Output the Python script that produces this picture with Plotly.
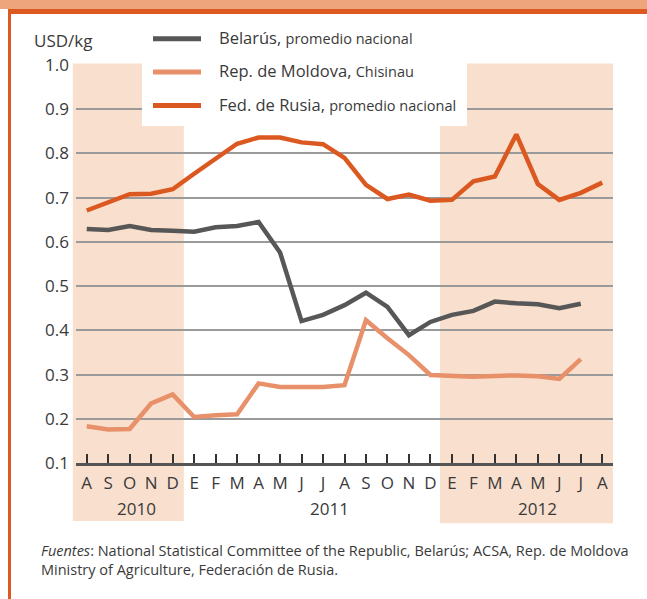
import plotly.graph_objects as go

# ---------------- data ----------------
months = ["A", "S", "O", "N", "D", "E", "F", "M", "A", "M", "J", "J",
          "A", "S", "O", "N", "D", "E", "F", "M", "A", "M", "J", "J", "A"]
years = ["2010", "2011", "2012"]
year_pos = [2.3, 11.3, 21.0]

belarus = [0.629, 0.627, 0.636, 0.627, 0.625, 0.623, 0.633, 0.636, 0.645, 0.576,
           0.421, 0.435, 0.457, 0.485, 0.453, 0.389, 0.419, 0.435, 0.444, 0.465,
           0.461, 0.459, 0.450, 0.460, None]
moldova = [0.183, 0.176, 0.177, 0.235, 0.255, 0.204, 0.208, 0.210, 0.280, 0.272,
           0.272, 0.272, 0.276, 0.423, 0.382, 0.344, 0.299, 0.298, 0.295, 0.297,
           0.298, 0.296, 0.290, 0.335, None]
russia = [0.671, 0.690, 0.708, 0.709, 0.719, 0.754, 0.788, 0.822, 0.836, 0.836,
          0.825, 0.821, 0.790, 0.729, 0.697, 0.707, 0.693, 0.695, 0.737, 0.748,
          0.843, 0.731, 0.695, 0.711, 0.734]

series_names = ["Belarús,", "Rep. de Moldova,", "Fed. de Rusia,"]
series_subs = ["promedio nacional", "Chisinau", "promedio nacional"]
yticks = [0.1, 0.2, 0.3, 0.4, 0.5, 0.6, 0.7, 0.8, 0.9, 1.0]

# ---------------- style ----------------
C_BEL = "#575757"
C_MOL = "#E8906A"
C_RUS = "#DB5820"
C_SHADE = "#F9DFCD"
C_TEXT = "#3a3a3a"
FONT = "Open Sans"

W, H = 647, 599
ML, MR, MT, MB = 76, 34, 65, 136
PW = W - ML - MR
PH = H - MT - MB
X0, X1 = -0.5, 24.5


def px(xp):
    return (xp - ML) / PW


def py(yp):
    return (H - MB - yp) / PH


def xi(i):
    return (i - X0) / (X1 - X0)


xs = list(range(len(months)))

fig = go.Figure()
for vals, col in [(moldova, C_MOL), (belarus, C_BEL), (russia, C_RUS)]:
    fig.add_trace(go.Scatter(x=xs, y=vals, mode="lines",
                             line=dict(color=col, width=4.5),
                             showlegend=False, hoverinfo="skip", connectgaps=False))

shapes = []
# shaded periods
shapes.append(dict(type="rect", xref="paper", yref="paper",
                   x0=xi(-0.65), x1=xi(4.52), y0=py(521), y1=py(63.5),
                   fillcolor=C_SHADE, line_width=0, layer="below"))
shapes.append(dict(type="rect", xref="paper", yref="paper",
                   x0=xi(16.45), x1=xi(24.5), y0=py(523.3), y1=py(63.5),
                   fillcolor=C_SHADE, line_width=0, layer="below"))
# frame
shapes.append(dict(type="rect", xref="paper", yref="paper",
                   x0=px(0), x1=px(W), y0=py(9), y1=py(-2),
                   fillcolor="#EFA57C", line_width=0, layer="above"))
shapes.append(dict(type="rect", xref="paper", yref="paper",
                   x0=px(8), x1=px(W), y0=py(14), y1=py(9),
                   fillcolor="#DC5A22", line_width=0, layer="above"))
shapes.append(dict(type="rect", xref="paper", yref="paper",
                   x0=px(8), x1=px(11), y0=py(H + 2), y1=py(9),
                   fillcolor="#DC5A22", line_width=0, layer="above"))
# legend box
shapes.append(dict(type="rect", xref="paper", yref="paper",
                   x0=px(142), x1=px(467), y0=py(126), y1=py(18),
                   fillcolor="white", line_width=0, layer="above"))
leg_y = [38.7, 72.0, 105.5]
for yy, col in zip(leg_y, [C_BEL, C_MOL, C_RUS]):
    shapes.append(dict(type="line", xref="paper", yref="paper",
                       x0=px(153), x1=px(201), y0=py(yy), y1=py(yy),
                       line=dict(color=col, width=5), layer="above"))

annotations = []
for yy, nm, sb in zip(leg_y, series_names, series_subs):
    annotations.append(dict(xref="paper", yref="paper", x=px(217), y=py(yy - 1.5),
                            xanchor="left", yanchor="middle", showarrow=False,
                            text=f"{nm} <span style='font-size:14.5px'>{sb}</span>",
                            font=dict(family=FONT, size=16.5, color=C_TEXT)))
annotations.append(dict(xref="paper", yref="paper", x=px(32), y=py(41),
                        xanchor="left", yanchor="middle", showarrow=False,
                        text="USD/kg", font=dict(family=FONT, size=17, color=C_TEXT)))
for yr, pos in zip(years, year_pos):
    annotations.append(dict(xref="x", yref="paper", x=pos, y=py(508),
                            xanchor="center", yanchor="middle", showarrow=False,
                            text=yr, font=dict(family=FONT, size=17, color=C_TEXT)))
annotations.append(dict(xref="paper", yref="paper", x=px(39), y=py(550),
                        xanchor="left", yanchor="middle", showarrow=False,
                        text="<i>Fuentes</i>: National Statistical Committee of the Republic, Belarús; ACSA, Rep. de Moldova",
                        font=dict(family=FONT, size=14.5, color=C_TEXT)))
annotations.append(dict(xref="paper", yref="paper", x=px(39), y=py(569),
                        xanchor="left", yanchor="middle", showarrow=False,
                        text="Ministry of Agriculture, Federación de Rusia.",
                        font=dict(family=FONT, size=14.5, color=C_TEXT)))

fig.update_layout(
    width=W, height=H,
    margin=dict(l=ML, r=MR, t=MT, b=MB, pad=0),
    paper_bgcolor="white", plot_bgcolor="rgba(0,0,0,0)",
    font=dict(family=FONT, color=C_TEXT),
    shapes=shapes, annotations=annotations,
    xaxis=dict(range=[X0, X1], tickmode="array", tickvals=xs, ticktext=months,
               ticks="inside", ticklen=9, tickwidth=2, tickcolor="#333",
               showline=True, linecolor="#555", linewidth=3,
               showgrid=False, zeroline=False, fixedrange=True,
               ticklabelstandoff=3,
               tickfont=dict(family=FONT, size=17, color=C_TEXT)),
    yaxis=dict(range=[0.1, 1.0], tickmode="array", tickvals=yticks,
               ticktext=[f"{v:.1f}" for v in yticks],
               showgrid=True, gridcolor="#9a9a9a", gridwidth=1.5,
               zeroline=False, showline=False, ticks="", fixedrange=True,
               ticklabelstandoff=6,
               tickfont=dict(family=FONT, size=17, color=C_TEXT)),
)

fig.write_html("out.html", config={"displayModeBar": False},
               post_script="document.body.style.margin='0';document.body.style.padding='0';document.body.style.overflow='hidden';")
